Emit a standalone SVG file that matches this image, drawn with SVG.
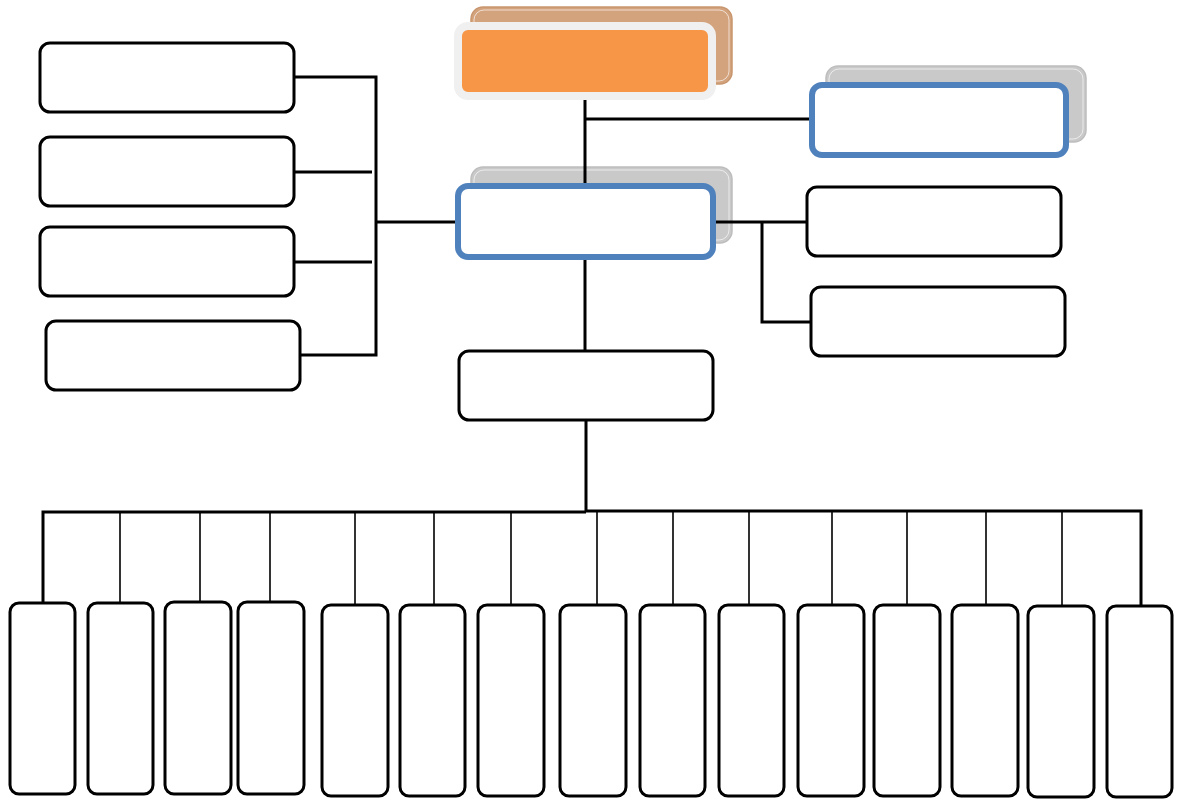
<svg xmlns="http://www.w3.org/2000/svg" width="1177" height="801" viewBox="0 0 1177 801">
<style>
.box{fill:#ffffff;stroke:#000000;stroke-width:3}
.blue{fill:#ffffff;stroke:#4f81bd;stroke-width:6}
.gsh{fill:#c9c9c9;stroke:#bdbdbd;stroke-width:1.5}
.bsh{fill:#d3a37e;stroke:#c8966e;stroke-width:1.5}
.inner{fill:none;stroke:#ffffff;stroke-width:0.8;opacity:0.8}
.ln{fill:none;stroke:#000000;stroke-width:3}
.thin{fill:none;stroke:#000000;stroke-width:1.6}
</style>
<rect width="1177" height="801" fill="#ffffff"/>
<g id="shadows">
<g id="node-top-shadow">
<rect class="bsh" x="471" y="7" width="261" height="77" rx="12"/>
<rect class="inner" x="474" y="10" width="255" height="71" rx="10"/>
</g>
<g id="node-topright-shadow">
<rect class="gsh" x="826" y="66" width="260" height="76" rx="12"/>
<rect class="inner" x="829" y="69" width="254" height="70" rx="10"/>
</g>
<g id="node-center-shadow">
<rect class="gsh" x="471" y="167" width="261" height="76" rx="12"/>
<rect class="inner" x="474" y="170" width="255" height="70" rx="10"/>
</g>
</g>
<g id="connectors">
<path class="ln" d="M585 97V186M585 119H812"/>
<path class="ln" d="M294 77H376V355H300M294 172H372M294 262H372M376 222H458"/>
<path class="ln" d="M713 222H807M762 222V322H811"/>
<path class="ln" d="M585 257V351M586 420V512"/>
<path class="ln" d="M43 603V512H586M586 511H1141V606"/>
<path class="thin" d="M120 512V603M200 512V602M270 512V602M355 512V605M434 512V605M511 512V605M597 511V605M673 511V605M749 511V605M832 511V605M907 511V605M986 511V605M1062 511V606"/>
</g>
<g id="node-top">
<rect x="458" y="26" width="254" height="70" rx="10" fill="#f79646" stroke="#f0f0f0" stroke-width="8"/>
</g>
<g id="node-topright">
<rect class="blue" x="812" y="85" width="254" height="70" rx="10"/>
</g>
<g id="node-center">
<rect class="blue" x="458" y="186" width="255" height="71" rx="10"/>
</g>
<g id="node-left1"><rect class="box" x="40" y="43" width="254" height="69" rx="10"/></g>
<g id="node-left2"><rect class="box" x="40" y="137" width="254" height="69" rx="10"/></g>
<g id="node-left3"><rect class="box" x="40" y="227" width="254" height="69" rx="10"/></g>
<g id="node-left4"><rect class="box" x="46" y="321" width="254" height="69" rx="10"/></g>
<g id="node-right1"><rect class="box" x="807" y="187" width="254" height="69" rx="10"/></g>
<g id="node-right2"><rect class="box" x="811" y="287" width="254" height="69" rx="10"/></g>
<g id="node-middle"><rect class="box" x="459" y="351" width="254" height="69" rx="10"/></g>
<g id="node-b1"><rect class="box" x="10" y="603" width="65" height="191" rx="9"/></g>
<g id="node-b2"><rect class="box" x="88" y="603" width="65" height="191" rx="9"/></g>
<g id="node-b3"><rect class="box" x="165" y="602" width="66" height="192" rx="9"/></g>
<g id="node-b4"><rect class="box" x="238" y="602" width="66" height="192" rx="9"/></g>
<g id="node-b5"><rect class="box" x="322" y="605" width="66" height="191" rx="9"/></g>
<g id="node-b6"><rect class="box" x="400" y="605" width="65" height="191" rx="9"/></g>
<g id="node-b7"><rect class="box" x="478" y="605" width="66" height="191" rx="9"/></g>
<g id="node-b8"><rect class="box" x="560" y="605" width="66" height="191" rx="9"/></g>
<g id="node-b9"><rect class="box" x="640" y="605" width="65" height="191" rx="9"/></g>
<g id="node-b10"><rect class="box" x="719" y="605" width="65" height="191" rx="9"/></g>
<g id="node-b11"><rect class="box" x="798" y="605" width="66" height="191" rx="9"/></g>
<g id="node-b12"><rect class="box" x="874" y="605" width="66" height="191" rx="9"/></g>
<g id="node-b13"><rect class="box" x="952" y="605" width="66" height="191" rx="9"/></g>
<g id="node-b14"><rect class="box" x="1028" y="606" width="66" height="191" rx="9"/></g>
<g id="node-b15"><rect class="box" x="1107" y="606" width="65" height="191" rx="9"/></g>
</svg>
